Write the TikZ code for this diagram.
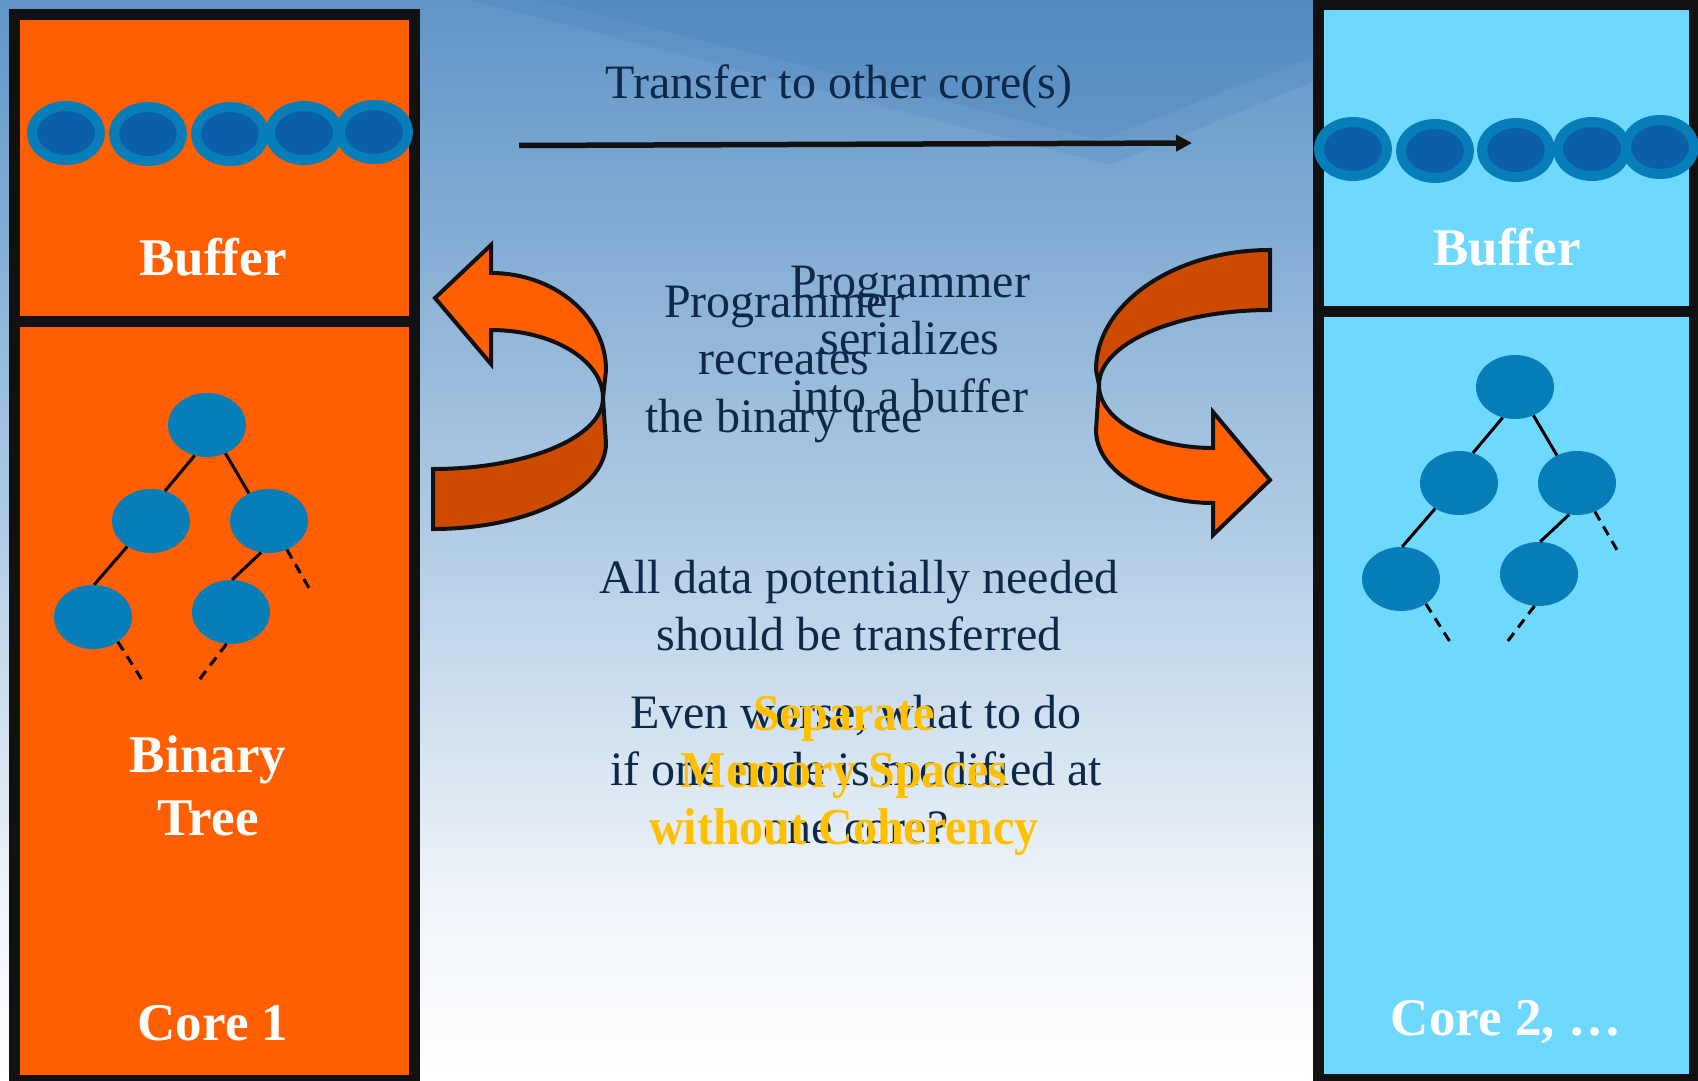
\documentclass[tikz,border=0pt]{standalone}
\usepackage{fontspec}
\setmainfont{Liberation Serif}
\usetikzlibrary{shapes.geometric,arrows.meta}
\definecolor{bgtop}{RGB}{96,148,199}
\definecolor{bgmid}{RGB}{178,205,229}
\definecolor{bglow}{RGB}{240,244,250}
\definecolor{bgband}{RGB}{62,122,182}
\definecolor{orangefill}{RGB}{255,95,0}
\definecolor{orangedark}{RGB}{204,75,0}
\definecolor{cyanfill}{RGB}{110,216,255}
\definecolor{nodeblue}{RGB}{8,126,184}
\definecolor{nodeinner}{RGB}{10,95,168}
\definecolor{boxline}{RGB}{17,17,17}
\definecolor{navytext}{RGB}{14,40,72}
\definecolor{goldtext}{RGB}{255,192,0}
\begin{document}
\begin{tikzpicture}[x=1pt,y={(0pt,-1pt)},
  corebox/.style={draw=boxline,line width=11pt,inner sep=0pt,rectangle},
  bufnode/.style={ellipse,inner sep=0pt,minimum width=68pt,minimum height=54pt,fill=nodeinner,draw=nodeblue,line width=10pt},
  treenode/.style={ellipse,inner sep=0pt,minimum width=78pt,minimum height=64pt,fill=nodeblue},
  treeedge/.style={draw=black,line width=3pt},
  treedash/.style={treeedge,dash pattern=on 10pt off 7pt},
  corelabel/.style={text=white,font=\bfseries\fontsize{53}{63}\selectfont,inner sep=0pt,align=center},
  midtext/.style={text=navytext,font=\fontsize{48}{57.5}\selectfont,align=center,inner sep=0pt},
  goldlabel/.style={text=goldtext,font=\bfseries\fontsize{48}{57}\selectfont,align=center,inner sep=0pt},
  ribbon/.style={draw=boxline,line width=4pt,line join=miter},
]
\useasboundingbox (0,0) rectangle (1698,1081);
\clip (0,0) rectangle (1698,1081);
% background
\fill[top color=bgtop,bottom color=bgmid] (0,0) rectangle (1698,541);
\fill[top color=bgmid,bottom color=bglow] (0,540) rectangle (1698,901);
\fill[top color=bglow,bottom color=white] (0,900) rectangle (1698,1081);
% darker diagonal band at the top
\fill[bgband,opacity=0.18] (470,0) -- (1110,165) -- (1330,75) -- (1330,0) -- cycle;
\fill[bgband,opacity=0.18] (540,0) -- (1100,140) -- (1330,50) -- (1330,0) -- cycle;

% left core
\node[corebox,fill=orangefill,minimum width=400pt,minimum height=759pt] (core1) at (214,700.5) {};
\node[corebox,fill=orangefill,minimum width=400pt,minimum height=306.5pt] (buf1) at (214,167.75) {};
% right core
\node[corebox,fill=cyanfill,minimum width=376pt,minimum height=768pt] (core2) at (1506,695) {};
\node[corebox,fill=cyanfill,minimum width=376pt,minimum height=306pt] (buf2) at (1506,158) {};

% buffer items left
\node[bufnode] (b1a) at (66,133) {};
\node[bufnode] (b1b) at (148,134) {};
\node[bufnode] (b1c) at (230,134) {};
\node[bufnode] (b1d) at (304,133) {};
\node[bufnode] (b1e) at (374,132) {};
% buffer items right
\node[bufnode] (b2a) at (1353,149) {};
\node[bufnode] (b2b) at (1435,151) {};
\node[bufnode] (b2c) at (1516,150) {};
\node[bufnode] (b2d) at (1592,149) {};
\node[bufnode] (b2e) at (1660,147) {};

% left tree
\node[treenode] (t1r) at (207,425) {};
\node[treenode] (t1l) at (151,521) {};
\node[treenode] (t1q) at (269,521) {};
\node[treenode] (t1ll) at (93,617) {};
\node[treenode] (t1ql) at (231,612) {};
\coordinate (t1qd) at (309,588);
\coordinate (t1lld) at (144,683);
\coordinate (t1qld) at (196,684);
\draw[treeedge] (t1r.248) -- (t1l.65);
\draw[treeedge] (t1r.303) -- (t1q.126);
\draw[treeedge] (t1l.227) -- (t1ll.88);
\draw[treeedge] (t1q.256) -- (t1ql.88);
\draw[treedash] (t1q.302) -- (t1qd);
\draw[treedash] (t1ll.315) -- (t1lld);
\draw[treedash] (t1ql.262) -- (t1qld);

% right tree
\node[treenode] (t2r) at (1515,387) {};
\node[treenode] (t2l) at (1459,483) {};
\node[treenode] (t2q) at (1577,483) {};
\node[treenode] (t2ll) at (1401,579) {};
\node[treenode] (t2ql) at (1539,574) {};
\coordinate (t2qd) at (1617,550);
\coordinate (t2lld) at (1452,645);
\coordinate (t2qld) at (1504,646);
\draw[treeedge] (t2r.248) -- (t2l.65);
\draw[treeedge] (t2r.303) -- (t2q.126);
\draw[treeedge] (t2l.227) -- (t2ll.88);
\draw[treeedge] (t2q.256) -- (t2ql.88);
\draw[treedash] (t2q.302) -- (t2qd);
\draw[treedash] (t2ll.315) -- (t2lld);
\draw[treedash] (t2ql.262) -- (t2qld);

% labels
\node[corelabel,anchor=base] (buf1lbl) at (213,275) {Buffer};
\node[corelabel,anchor=base] (buf2lbl) at (1507,265) {Buffer};
\node[corelabel,anchor=north] (treelbl) at (208,727) {\rule{0pt}{45pt}Binary\\Tree};
\node[corelabel,anchor=base] (core1lbl) at (213,1040) {Core 1};
\node[corelabel,anchor=base] (core2lbl) at (1506,1035) {Core 2, …};

% transfer arrow
\node[midtext,anchor=base] (transfer) at (839,99) {Transfer to other core(s)};
\coordinate (tfrom) at (519,145.5);
\coordinate (tto) at (1192,143);
\draw[draw=boxline,line width=5.5pt,-{Triangle[length=16pt,width=16pt]}] (tfrom) -- (tto);

% left curved arrow (recreate)
\filldraw[ribbon,fill=orangedark] (433,469) -- (433,529) .. controls (528.5,529) and (606,490.5) .. (606,443) -- (603,398) .. controls (603,437.2) and (526.8,469) .. (433,469) -- cycle;
\filldraw[ribbon,fill=orangefill] (603,398) -- (606,370) .. controls (606,316.5) and (554.5,273) .. (491,273) -- (491,245) -- (435,298) -- (491,364) -- (491,330) .. controls (552.8,330) and (603,360.5) .. (603,398) -- cycle;

% right curved arrow (serialize)
\filldraw[ribbon,fill=orangedark] (1270,250) .. controls (1174,250) and (1096,303.8) .. (1096,370) -- (1099,385) .. controls (1099,343.6) and (1175.6,310) .. (1270,310) -- cycle;
\filldraw[ribbon,fill=orangefill] (1099,385) .. controls (1099,419.8) and (1150.1,448) .. (1213,448) -- (1213,412) -- (1270,480) -- (1213,535) -- (1213,503) .. controls (1148.4,503) and (1096,470.3) .. (1096,430) -- cycle;

% middle texts
\node[midtext,anchor=north] (recreate) at (784,277) {\rule{0pt}{40pt}Programmer\\recreates\\the binary tree};
\node[midtext,anchor=north] (serialize) at (910,257) {\rule{0pt}{40pt}Programmer\\serializes\\into a buffer};
\node[midtext,anchor=north] (alldata) at (859,553) {\rule{0pt}{40pt}All data potentially needed\\should be transferred};
\node[midtext,anchor=north] (worse) at (856,688) {\rule{0pt}{40pt}Even worse, what to do\\if one node is modified at\\one core?};
\node[goldlabel,anchor=north] (separate) at (844,690) {\rule{0pt}{40pt}\scalebox{1}[1.08]{Separate}\\\scalebox{1}[1.08]{Memory Spaces}\\\scalebox{1}[1.08]{without Coherency}};
\end{tikzpicture}
\end{document}
